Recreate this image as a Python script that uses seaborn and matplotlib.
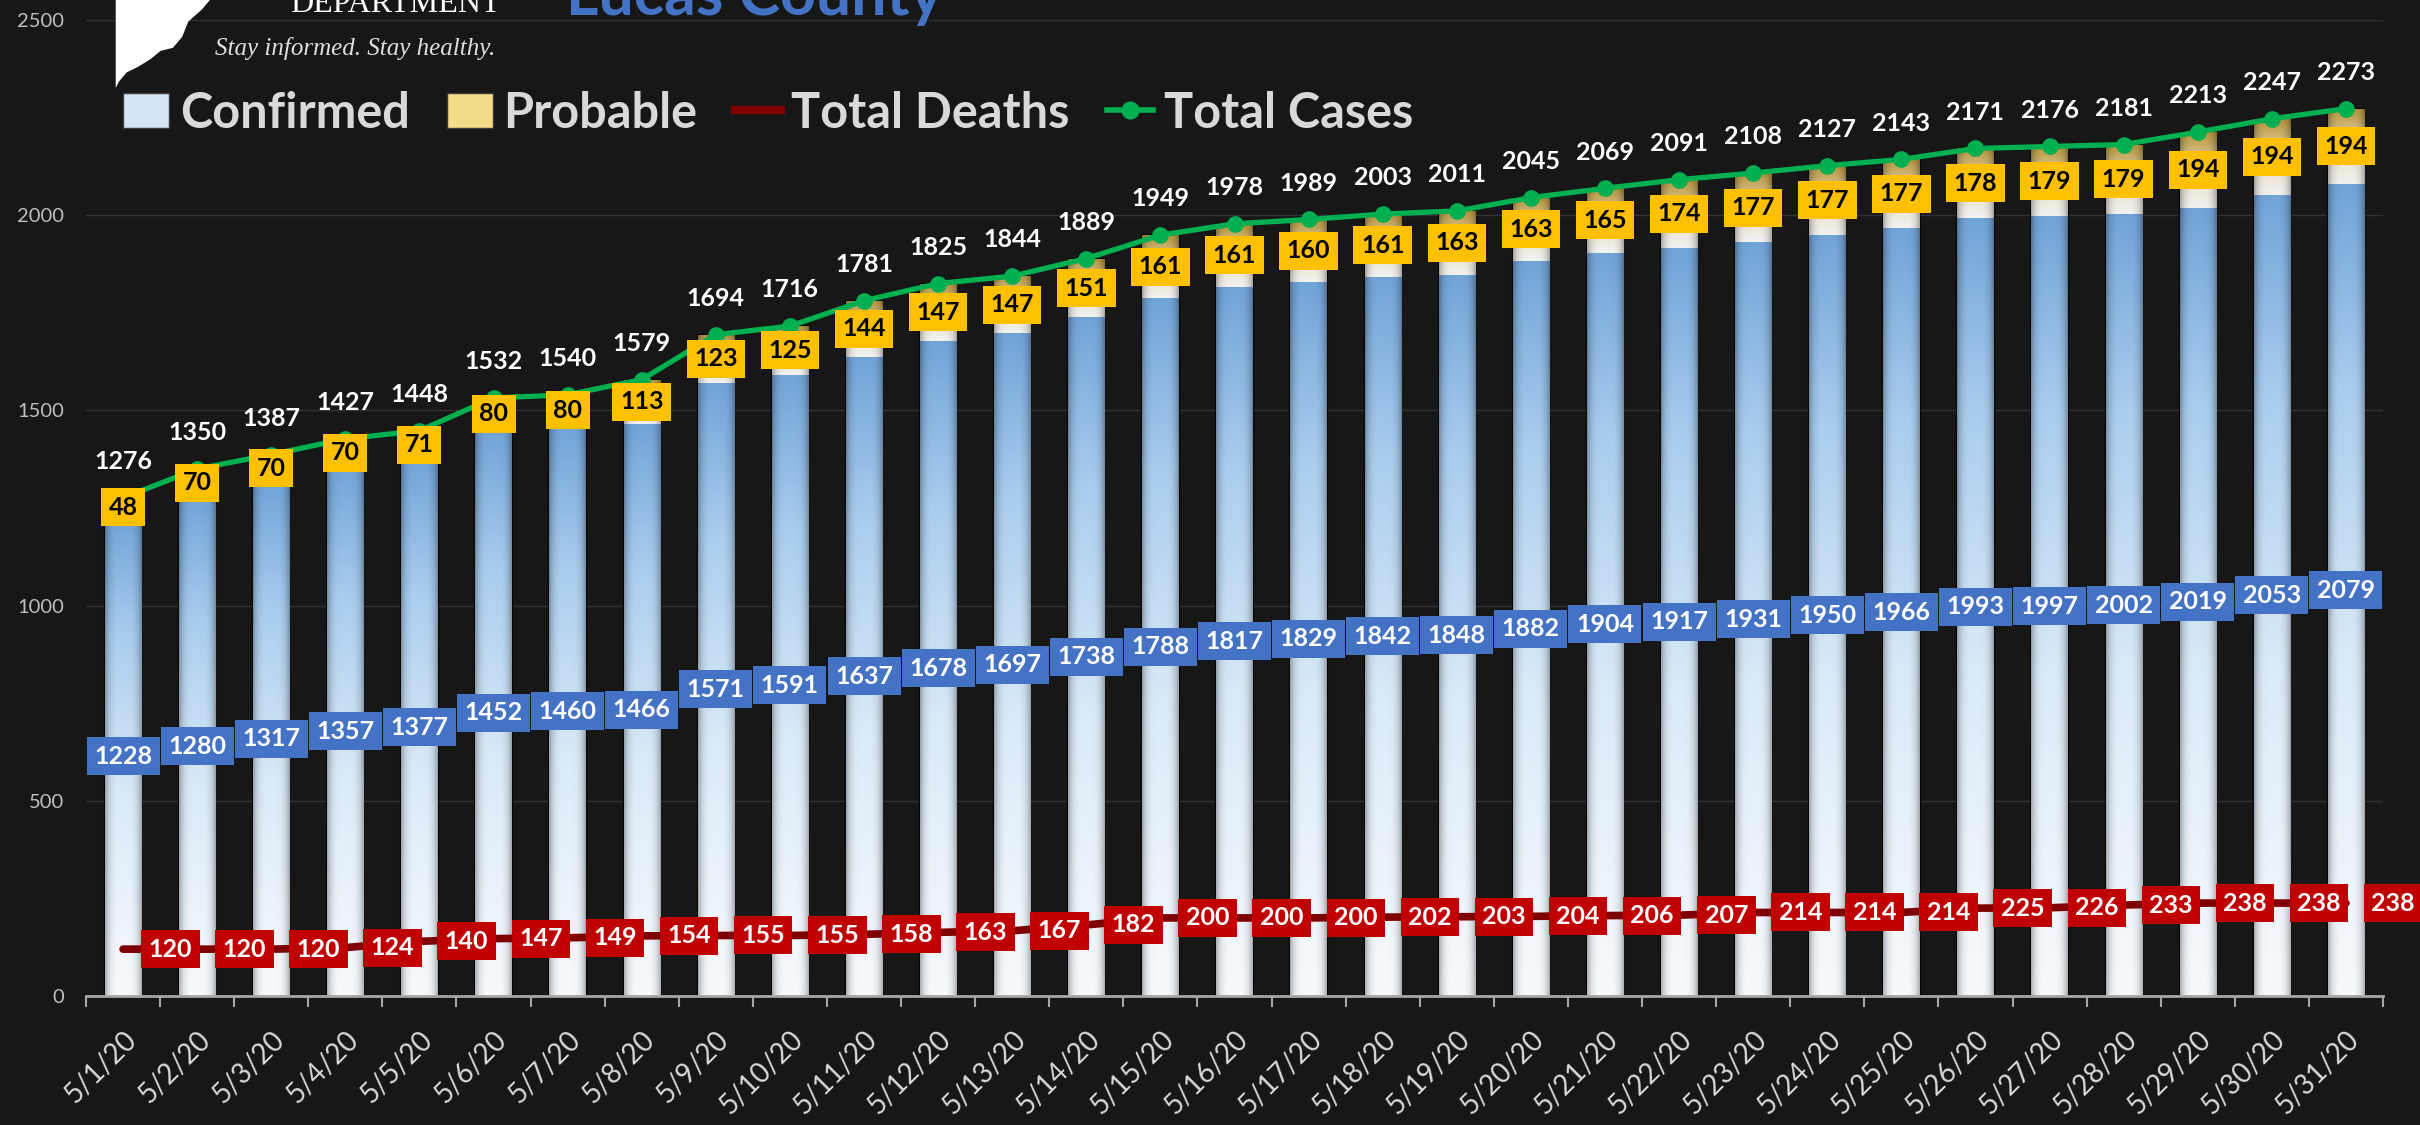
import numpy as np
import pandas as pd
import matplotlib
matplotlib.use('Agg')
import matplotlib.pyplot as plt
import matplotlib.colors as mcolors
import seaborn as sns
from matplotlib.patches import Patch, Polygon
from matplotlib.lines import Line2D

# data
dates = ['5/1/20', '5/2/20', '5/3/20', '5/4/20', '5/5/20', '5/6/20', '5/7/20', '5/8/20',
         '5/9/20', '5/10/20', '5/11/20', '5/12/20', '5/13/20', '5/14/20', '5/15/20', '5/16/20',
         '5/17/20', '5/18/20', '5/19/20', '5/20/20', '5/21/20', '5/22/20', '5/23/20', '5/24/20',
         '5/25/20', '5/26/20', '5/27/20', '5/28/20', '5/29/20', '5/30/20', '5/31/20']
confirmed = [1228, 1280, 1317, 1357, 1377, 1452, 1460, 1466, 1571, 1591, 1637, 1678, 1697, 1738, 1788,
             1817, 1829, 1842, 1848, 1882, 1904, 1917, 1931, 1950, 1966, 1993, 1997, 2002, 2019, 2053, 2079]
probable = [48, 70, 70, 70, 71, 80, 80, 113, 123, 125, 144, 147, 147, 151, 161,
            161, 160, 161, 163, 163, 165, 174, 177, 177, 177, 178, 179, 179, 194, 194, 194]
total_cases = [1276, 1350, 1387, 1427, 1448, 1532, 1540, 1579, 1694, 1716, 1781, 1825, 1844, 1889, 1949,
               1978, 1989, 2003, 2011, 2045, 2069, 2091, 2108, 2127, 2143, 2171, 2176, 2181, 2213, 2247, 2273]
total_deaths = [120, 120, 120, 124, 140, 147, 149, 154, 155, 155, 158, 163, 167, 182, 200,
                200, 200, 202, 203, 204, 206, 207, 214, 214, 214, 225, 226, 233, 238, 238, 238]

df = pd.DataFrame({'date': dates, 'confirmed': confirmed, 'probable': probable,
                   'total': total_cases, 'deaths': total_deaths})
pos = np.arange(len(df))

BG = '#171717'
plt.rcParams['font.family'] = ['Lato', 'DejaVu Sans']

fig = plt.figure(figsize=(24.2, 11.25), dpi=100, facecolor=BG)
ax = fig.add_axes([86 / 2420, 1 - 996 / 1125, 2297 / 2420, 976 / 1125])
ax.set_facecolor(BG)

# stacked look: total bars behind, confirmed bars in front
sns.barplot(data=df, x='date', y='total', color='#e8d9a8', width=0.49, ax=ax, zorder=2)
sns.barplot(data=df, x='date', y='confirmed', color='#a9cdef', width=0.49, ax=ax, zorder=2)
bars_total = ax.patches[:len(df)]
bars_conf = ax.patches[len(df):2 * len(df)]


def shade(patch, y0, y1, stops):
    # vertical colour gradient times a soft cylinder profile, clipped to the bar
    x, w = patch.get_x(), patch.get_width()
    t = np.linspace(0, 1, 200)
    rgb = [mcolors.to_rgb(c) for _, c in stops]
    cols = np.array([np.interp(t, [s for s, _ in stops], [c[i] for c in rgb]) for i in range(3)]).T
    prof = 1 - 0.30 * np.abs(np.linspace(-1, 1, 40)) ** 4
    img = np.clip(cols[:, None, :] * prof[None, :, None], 0, 1)
    im = ax.imshow(img, extent=(x, x + w, y0, y1), origin='lower', aspect='auto',
                   interpolation='bilinear', zorder=2.1)
    im.set_clip_path(patch)
    patch.set_facecolor('none')
    patch.set_edgecolor('#050505')
    patch.set_linewidth(1.5)


for p, c, t in zip(bars_total, confirmed, total_cases):
    shade(p, c, t, [(0, '#f2f2f2'), (0.5, '#e8dcbc'), (1, '#b8953a')])
for p, c in zip(bars_conf, confirmed):
    shade(p, 0, c, [(0, '#f7fafd'), (0.4, '#dcebf8'), (0.75, '#aacdee'), (1, '#72a4d8')])

# lines
sns.lineplot(x=pos, y=df['deaths'], color='#7f0000', lw=5.5, ax=ax, zorder=4,
             solid_capstyle='round', legend=False)
sns.lineplot(x=pos, y=df['total'], color='#00b050', lw=3.8, marker='o', markersize=12,
             markeredgewidth=0, ax=ax, zorder=5, legend=False)

# data labels
lab = dict(fontsize=18, fontweight='bold', ha='center', va='center', zorder=7)
for i in pos:
    ax.annotate(str(total_cases[i]), (i, total_cases[i]), xytext=(0, 26),
                textcoords='offset points', color='white', **lab)
    ax.text(i, confirmed[i] + probable[i] / 2, str(probable[i]), color='black',
            bbox=dict(boxstyle='square,pad=0.3', fc='#ffc000', ec='none'), **lab)
    ax.text(i, confirmed[i] / 2, str(confirmed[i]), color='white',
            bbox=dict(boxstyle='square,pad=0.3', fc='#4472c4', ec='none'), **lab)
    ax.annotate(str(total_deaths[i]), (i, total_deaths[i]), xytext=(34, 0),
                textcoords='offset points', color='white', annotation_clip=False,
                bbox=dict(boxstyle='square,pad=0.3', fc='#c00000', ec='none'), **lab)

# axes styling
ax.set_xlim(-0.5, len(df) - 0.5)
ax.set_ylim(0, 2500)
ax.set_yticks(range(0, 2501, 500))
ax.set_xticks(pos)
ax.set_xticklabels(dates, rotation=45, ha='right', rotation_mode='anchor')
ax.set_xticks(np.arange(-0.5, len(df), 1), minor=True)
ax.tick_params(axis='x', which='major', length=0, pad=22, labelsize=20, labelcolor='#d9d9d9')
ax.tick_params(axis='x', which='minor', length=8, width=1.5, color='#a6a6a6')
ax.tick_params(axis='y', length=0, pad=16, labelsize=14.5, labelcolor='#bfbfbf')
ax.yaxis.grid(True, color='#333333', lw=1)
ax.set_axisbelow(True)
for s in ['top', 'right', 'left']:
    ax.spines[s].set_visible(False)
ax.spines['bottom'].set_color('#a6a6a6')
ax.spines['bottom'].set_linewidth(2)
ax.set_xlabel('')
ax.set_ylabel('')

# legend
handles = [Patch(facecolor='#d4e6f6', edgecolor='#3a3a3a'),
           Patch(facecolor='#f4dc8a', edgecolor='#3a3a3a'),
           Line2D([], [], color='#7f0000', lw=6),
           Line2D([], [], color='#00b050', lw=4, marker='o', markersize=12)]
labels = ['Confirmed', 'Probable', 'Total Deaths', 'Total Cases']
fig.legend(handles, labels, loc='center left', bbox_to_anchor=(123 / 2420, 1 - 113 / 1125),
           ncol=4, frameon=False, borderpad=0, borderaxespad=0, handlelength=0.95,
           handleheight=0.75, handletextpad=0.22, columnspacing=0.76, labelcolor='#d9d9d9',
           prop={'family': 'Lato', 'weight': 'bold', 'size': 35})

# header remnants (logo, department name, title)
logo = [(75, 0), (136, 0), (131, 6), (122, 14), (118, 24), (112, 31), (104, 33),
        (98, 38), (90, 43), (82, 47), (77, 53), (75, 57)]
fig.add_artist(Polygon([(x * 1.543 / 2420, 1 - y * 1.543 / 1125) for x, y in logo],
                       closed=True, fc='white', ec='none', transform=fig.transFigure))
fig.text(0.12, 0.989, 'DEPARTMENT', color='white', fontsize=23, family='Liberation Serif')
fig.text(0.089, 0.957, 'Stay informed. Stay healthy.', color='#e0e0e0', fontsize=18,
         family='Liberation Serif', style='italic', va='center')
fig.text(0.234, 0.987, 'Lucas County', color='#4472c4', fontsize=45, fontweight='bold')

fig.savefig('out.png', dpi=100, facecolor=BG)
